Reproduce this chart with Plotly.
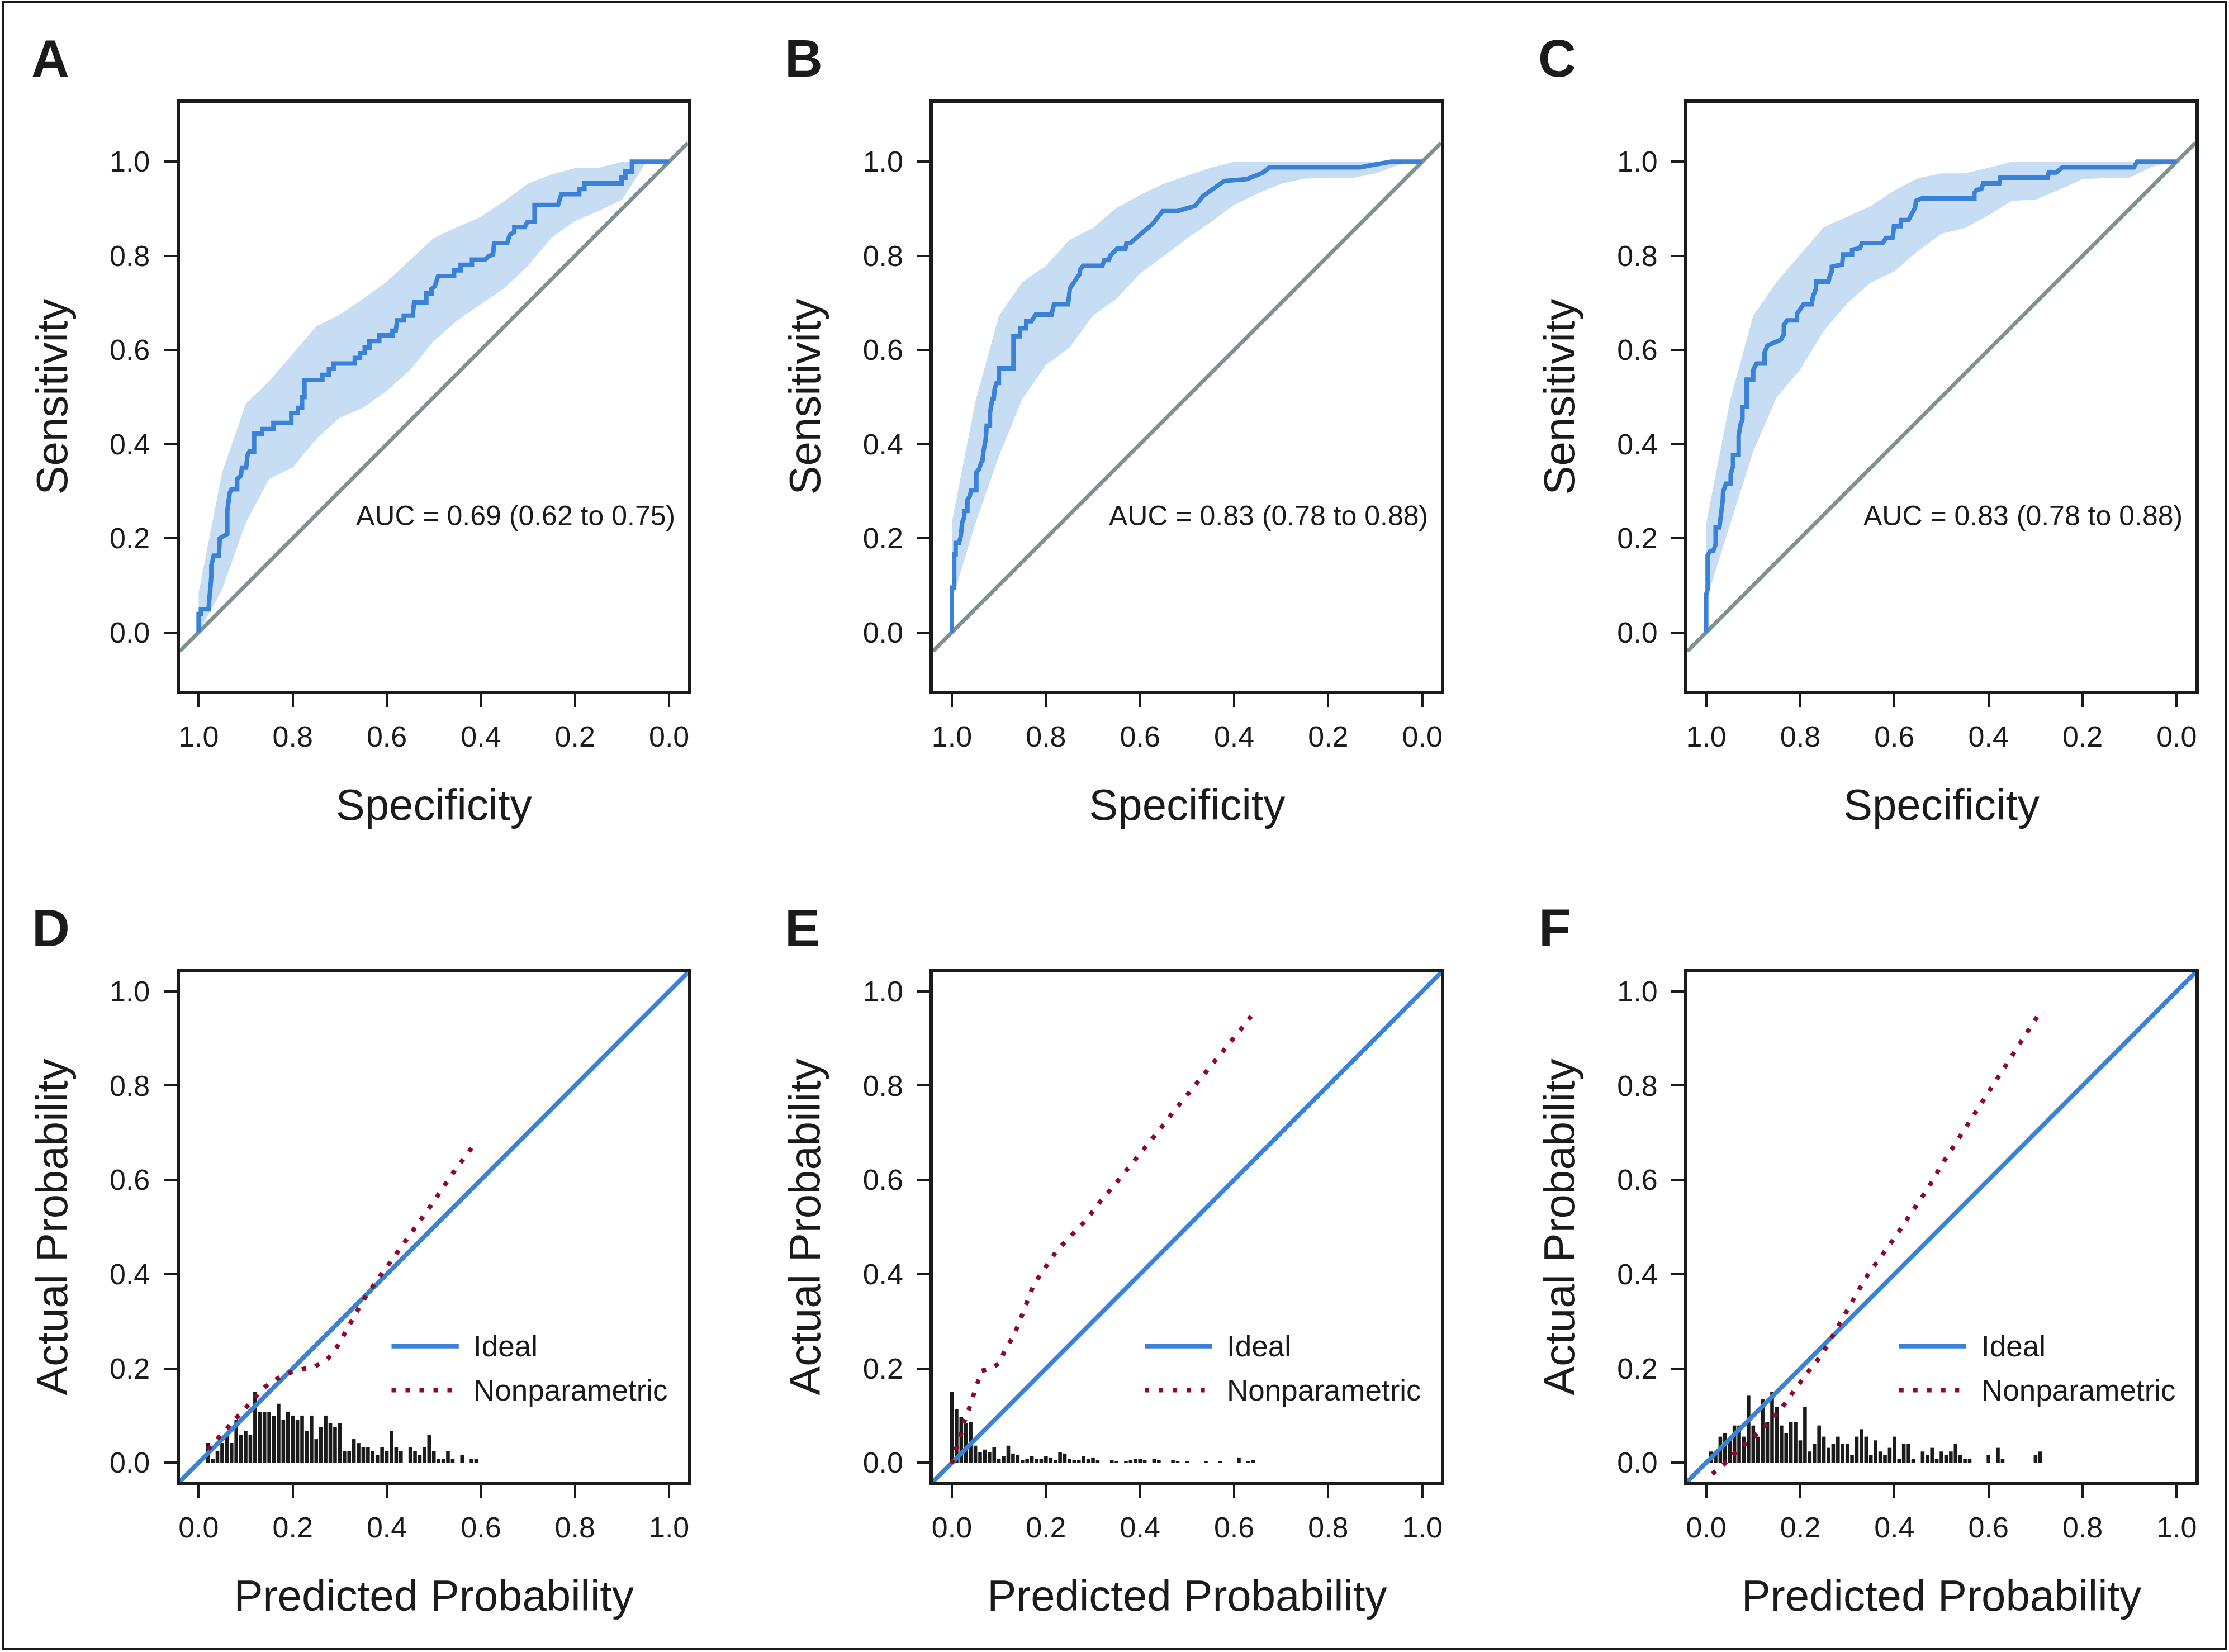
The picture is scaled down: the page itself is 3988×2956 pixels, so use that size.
import plotly.graph_objects as go

# ======================= DATA =======================
tick_vals = [0.0, 0.2, 0.4, 0.6, 0.8, 1.0]
tick_text = ["0.0", "0.2", "0.4", "0.6", "0.8", "1.0"]
panel_letters = ["A", "B", "C", "D", "E", "F"]
auc_labels = ["AUC = 0.69 (0.62 to 0.75)",
              "AUC = 0.83 (0.78 to 0.88)",
              "AUC = 0.83 (0.78 to 0.88)"]

# ROC step curves: (specificity, sensitivity)
roc_a = [(1.000, 0.000), (1.000, 0.039), (0.995, 0.039), (0.995, 0.049), (0.979, 0.049), (0.977, 0.071),
         (0.973, 0.118), (0.973, 0.142), (0.968, 0.163), (0.957, 0.163), (0.955, 0.200), (0.948, 0.204),
         (0.939, 0.209), (0.939, 0.258), (0.934, 0.296), (0.930, 0.304), (0.918, 0.304), (0.918, 0.326),
         (0.910, 0.333), (0.908, 0.350), (0.899, 0.350), (0.896, 0.377), (0.892, 0.384), (0.882, 0.384),
         (0.882, 0.422), (0.865, 0.422), (0.865, 0.432), (0.841, 0.432), (0.841, 0.445), (0.803, 0.445),
         (0.803, 0.466), (0.789, 0.466), (0.789, 0.477), (0.780, 0.477), (0.780, 0.500), (0.775, 0.500),
         (0.775, 0.536), (0.737, 0.536), (0.737, 0.547), (0.723, 0.547), (0.723, 0.560), (0.713, 0.560),
         (0.713, 0.571), (0.668, 0.571), (0.668, 0.583), (0.657, 0.583), (0.657, 0.593), (0.647, 0.593),
         (0.647, 0.605), (0.637, 0.605), (0.637, 0.619), (0.616, 0.619), (0.616, 0.631), (0.588, 0.631),
         (0.588, 0.641), (0.581, 0.641), (0.578, 0.663), (0.564, 0.663), (0.564, 0.673), (0.545, 0.673),
         (0.542, 0.701), (0.516, 0.701), (0.516, 0.720), (0.505, 0.720), (0.505, 0.730), (0.498, 0.735),
         (0.495, 0.745), (0.491, 0.757), (0.457, 0.757), (0.457, 0.769), (0.443, 0.769), (0.443, 0.781),
         (0.419, 0.781), (0.419, 0.792), (0.391, 0.792), (0.384, 0.799), (0.374, 0.803), (0.372, 0.827),
         (0.344, 0.827), (0.339, 0.844), (0.329, 0.851), (0.329, 0.861), (0.307, 0.861), (0.301, 0.872),
         (0.286, 0.872), (0.286, 0.908), (0.236, 0.908), (0.229, 0.931), (0.191, 0.931), (0.191, 0.942),
         (0.180, 0.942), (0.180, 0.954), (0.101, 0.954), (0.101, 0.966), (0.093, 0.966), (0.093, 0.979),
         (0.079, 0.979), (0.079, 1.000), (0.000, 1.000)]

roc_b = [(1.0, 0.0), (1.0, 0.095), (0.995, 0.095), (0.995, 0.166), (0.992, 0.166), (0.992, 0.190),
         (0.985, 0.190), (0.981, 0.204), (0.978, 0.234), (0.974, 0.244), (0.973, 0.258), (0.967, 0.258),
         (0.967, 0.282), (0.962, 0.289), (0.959, 0.302), (0.948, 0.302), (0.948, 0.340), (0.942, 0.347),
         (0.938, 0.360), (0.935, 0.364), (0.933, 0.384), (0.928, 0.411), (0.926, 0.439), (0.919, 0.439),
         (0.919, 0.466), (0.914, 0.496), (0.911, 0.496), (0.909, 0.517), (0.905, 0.530), (0.900, 0.530),
         (0.900, 0.561), (0.869, 0.561), (0.869, 0.629), (0.855, 0.629), (0.855, 0.646), (0.842, 0.646),
         (0.842, 0.661), (0.831, 0.661), (0.822, 0.675), (0.788, 0.675), (0.783, 0.697), (0.753, 0.697),
         (0.749, 0.731), (0.738, 0.748), (0.728, 0.762), (0.728, 0.769), (0.721, 0.779), (0.680, 0.779),
         (0.676, 0.791), (0.666, 0.791), (0.664, 0.799), (0.649, 0.815), (0.631, 0.815), (0.629, 0.827),
         (0.621, 0.827), (0.600, 0.845), (0.587, 0.857), (0.573, 0.868), (0.552, 0.895), (0.521, 0.895),
         (0.497, 0.902), (0.483, 0.906), (0.466, 0.927), (0.449, 0.939), (0.421, 0.959), (0.373, 0.963),
         (0.352, 0.970), (0.338, 0.977), (0.325, 0.988), (0.132, 0.988), (0.111, 0.992), (0.066, 1.0),
         (0.0, 1.0)]

roc_c = [(1.0, 0.0), (1.0, 0.081), (0.997, 0.091), (0.997, 0.164), (0.991, 0.173), (0.985, 0.173),
         (0.980, 0.187), (0.980, 0.223), (0.972, 0.223), (0.969, 0.244), (0.969, 0.258), (0.965, 0.279),
         (0.964, 0.299), (0.958, 0.316), (0.948, 0.316), (0.948, 0.336), (0.943, 0.353), (0.943, 0.377),
         (0.931, 0.377), (0.931, 0.418), (0.927, 0.442), (0.923, 0.452), (0.923, 0.479), (0.914, 0.479),
         (0.914, 0.537), (0.900, 0.537), (0.900, 0.558), (0.893, 0.571), (0.876, 0.571), (0.876, 0.595),
         (0.870, 0.609), (0.852, 0.616), (0.841, 0.622), (0.835, 0.633), (0.835, 0.653), (0.828, 0.663),
         (0.807, 0.663), (0.807, 0.677), (0.800, 0.687), (0.793, 0.697), (0.776, 0.697), (0.773, 0.714),
         (0.767, 0.729), (0.766, 0.745), (0.740, 0.745), (0.738, 0.755), (0.733, 0.767), (0.733, 0.777),
         (0.724, 0.779), (0.711, 0.781), (0.709, 0.803), (0.690, 0.803), (0.690, 0.813), (0.673, 0.816),
         (0.669, 0.827), (0.625, 0.827), (0.618, 0.838), (0.604, 0.838), (0.602, 0.851), (0.601, 0.863),
         (0.587, 0.863), (0.586, 0.876), (0.570, 0.876), (0.563, 0.891), (0.556, 0.902), (0.554, 0.917),
         (0.542, 0.922), (0.430, 0.922), (0.430, 0.934), (0.425, 0.940), (0.415, 0.942), (0.411, 0.954),
         (0.377, 0.954), (0.375, 0.966), (0.274, 0.966), (0.272, 0.977), (0.256, 0.977), (0.243, 0.988),
         (0.091, 0.988), (0.084, 1.0), (0.0, 1.0)]

# Sensitivity confidence bands at specificity grid
ci_spec = [1.0, 0.95, 0.90, 0.85, 0.80, 0.75, 0.70, 0.65, 0.60, 0.55, 0.50,
           0.45, 0.40, 0.35, 0.30, 0.25, 0.20, 0.15, 0.10, 0.05, 0.0]
ci_a_upper = [0.084, 0.340, 0.485, 0.534, 0.592, 0.650, 0.675, 0.709, 0.745, 0.791, 0.838,
              0.861, 0.883, 0.917, 0.953, 0.973, 0.986, 0.987, 1.0, 1.0, 1.0]
ci_a_lower = [0.0, 0.091, 0.232, 0.326, 0.350, 0.411, 0.456, 0.477, 0.513, 0.558, 0.619,
              0.663, 0.697, 0.731, 0.779, 0.838, 0.874, 0.895, 0.919, 0.997, 1.0]
ci_b_upper = [0.234, 0.490, 0.673, 0.745, 0.779, 0.834, 0.859, 0.902, 0.929, 0.953, 0.970,
              0.987, 1.0, 1.0, 1.0, 1.0, 1.0, 1.0, 1.0, 1.0, 1.0]
ci_b_lower = [0.067, 0.231, 0.374, 0.496, 0.568, 0.605, 0.673, 0.709, 0.762, 0.799, 0.837,
              0.871, 0.908, 0.932, 0.953, 0.964, 0.965, 0.965, 0.975, 0.993, 1.0]
ci_c_upper = [0.231, 0.490, 0.673, 0.745, 0.803, 0.861, 0.883, 0.906, 0.939, 0.965, 0.975,
              0.975, 0.987, 1.0, 1.0, 1.0, 1.0, 1.0, 1.0, 1.0, 1.0]
ci_c_lower = [0.067, 0.227, 0.384, 0.500, 0.558, 0.641, 0.699, 0.743, 0.767, 0.810, 0.847,
              0.859, 0.886, 0.917, 0.919, 0.940, 0.963, 0.965, 0.966, 0.990, 1.0]

# Calibration: nonparametric (lowess) curves (predicted, actual)
cal_d = [(0.02, 0.028), (0.04, 0.051), (0.06, 0.073), (0.08, 0.095), (0.10, 0.116), (0.12, 0.138),
         (0.14, 0.160), (0.165, 0.177), (0.191, 0.190), (0.219, 0.198), (0.247, 0.204), (0.274, 0.220),
         (0.292, 0.242), (0.307, 0.268), (0.322, 0.293), (0.336, 0.320), (0.351, 0.346), (0.367, 0.370),
         (0.384, 0.394), (0.402, 0.418), (0.419, 0.441), (0.436, 0.465), (0.454, 0.489), (0.471, 0.513),
         (0.488, 0.537), (0.505, 0.562), (0.521, 0.587), (0.538, 0.611), (0.556, 0.635), (0.574, 0.658),
         (0.591, 0.682)]
cal_e = [(0.000, -0.002), (0.007, 0.025), (0.018, 0.055), (0.025, 0.083), (0.035, 0.110), (0.044, 0.138),
         (0.052, 0.167), (0.063, 0.195), (0.082, 0.199), (0.102, 0.212), (0.113, 0.240), (0.129, 0.265),
         (0.141, 0.292), (0.151, 0.319), (0.161, 0.347), (0.173, 0.375), (0.188, 0.399), (0.204, 0.424),
         (0.222, 0.448), (0.242, 0.470), (0.263, 0.490), (0.283, 0.512), (0.301, 0.535), (0.319, 0.559),
         (0.339, 0.581), (0.358, 0.604), (0.377, 0.626), (0.396, 0.650), (0.414, 0.673), (0.433, 0.696),
         (0.451, 0.718), (0.469, 0.742), (0.488, 0.765), (0.507, 0.787), (0.526, 0.810), (0.544, 0.833),
         (0.562, 0.856), (0.581, 0.878), (0.600, 0.902), (0.618, 0.924), (0.636, 0.947)]
cal_f = [(0.013, -0.024), (0.036, -0.005), (0.056, 0.016), (0.078, 0.036), (0.101, 0.056), (0.123, 0.075),
         (0.143, 0.097), (0.162, 0.118), (0.180, 0.143), (0.197, 0.167), (0.215, 0.191), (0.234, 0.214),
         (0.251, 0.238), (0.266, 0.264), (0.280, 0.289), (0.294, 0.315), (0.309, 0.341), (0.324, 0.367),
         (0.339, 0.392), (0.356, 0.416), (0.373, 0.441), (0.391, 0.464), (0.408, 0.488), (0.425, 0.512),
         (0.441, 0.536), (0.457, 0.561), (0.473, 0.585), (0.487, 0.611), (0.503, 0.636), (0.520, 0.662),
         (0.536, 0.687), (0.552, 0.711), (0.568, 0.737), (0.584, 0.761), (0.600, 0.786), (0.617, 0.810),
         (0.633, 0.836), (0.648, 0.861), (0.664, 0.885), (0.680, 0.909), (0.696, 0.935), (0.712, 0.959)]

# Distribution of predicted probabilities (spike counts per 0.01 bin)
spike_d_x = [0.02, 0.03, 0.04, 0.05, 0.06, 0.07, 0.08, 0.09, 0.10, 0.11, 0.12, 0.13, 0.14, 0.15, 0.16,
             0.17, 0.18, 0.19, 0.20, 0.21, 0.22, 0.23, 0.24, 0.25, 0.26, 0.27, 0.28, 0.29, 0.30, 0.31,
             0.32, 0.33, 0.34, 0.35, 0.36, 0.37, 0.38, 0.39, 0.40, 0.41, 0.42, 0.43, 0.45, 0.46, 0.47,
             0.48, 0.49, 0.50, 0.51, 0.52, 0.53, 0.54, 0.56, 0.58, 0.59]
spike_d_n = [5, 1, 3, 5, 7, 5, 11, 7, 8, 7, 18, 13, 13, 13, 12,
             15, 11, 13, 12, 11, 12, 8, 12, 6, 9, 12, 10, 9, 10, 3,
             3, 6, 5, 4, 4, 3, 2, 4, 3, 8, 4, 3, 4, 3, 2,
             4, 7, 3, 1, 1, 3, 1, 2, 1, 1]
spike_e_x = [0.00, 0.01, 0.02, 0.03, 0.04, 0.05, 0.06, 0.07, 0.08, 0.09, 0.10, 0.11, 0.12, 0.13, 0.14,
             0.15, 0.16, 0.17, 0.18, 0.19, 0.20, 0.21, 0.22, 0.23, 0.24, 0.25, 0.26, 0.27, 0.28, 0.29,
             0.30, 0.31, 0.34, 0.35, 0.37, 0.38, 0.39, 0.40, 0.41, 0.43, 0.44, 0.47, 0.48, 0.50, 0.54,
             0.57, 0.61, 0.63, 0.64]
spike_e_n = [54, 41, 35, 30, 31, 13, 8, 10, 8, 12, 3, 5, 13, 7, 6,
             2, 3, 5, 3, 3, 5, 4, 2, 8, 7, 3, 2, 2, 5, 3,
             4, 2, 2, 1, 1, 2, 3, 3, 2, 3, 2, 2, 1, 1, 1,
             1, 4, 1, 2]
spike_f_x = [0.01, 0.02, 0.03, 0.04, 0.05, 0.06, 0.07, 0.08, 0.09, 0.10, 0.11, 0.12, 0.13, 0.14, 0.15,
             0.16, 0.17, 0.18, 0.19, 0.20, 0.21, 0.22, 0.23, 0.24, 0.25, 0.26, 0.27, 0.28, 0.29, 0.30,
             0.31, 0.32, 0.33, 0.34, 0.35, 0.36, 0.37, 0.38, 0.39, 0.40, 0.41, 0.42, 0.43, 0.44, 0.46,
             0.47, 0.48, 0.49, 0.50, 0.51, 0.52, 0.53, 0.54, 0.55, 0.56, 0.60, 0.62, 0.63, 0.70, 0.71]
spike_f_n = [3, 3, 7, 8, 6, 10, 10, 7, 18, 10, 7, 17, 11, 19, 15,
             10, 8, 11, 11, 6, 15, 3, 5, 10, 7, 4, 5, 7, 5, 5,
             2, 7, 9, 7, 2, 6, 3, 2, 4, 7, 1, 5, 5, 1, 3,
             2, 4, 1, 3, 2, 3, 5, 2, 1, 1, 2, 4, 1, 2, 3]
spike_max_height = 0.15

# ======================= STYLE / LAYOUT =======================
W, H = 3988, 2956
FONT = "Liberation Sans, Arial, sans-serif"
INK = "#1b1b1b"
BLUE = "#3a82d8"
BAND = "#c7ddf3"
DIAG = "#7f9292"
RED = "#8c0a2c"
DOT = "8px,17px"

roc_xrange = [1.04, -0.04]
roc_yrange = [-0.124, 1.125]
cal_range = [-0.04, 1.04]

col_px = [(320, 1230), (1669, 2579), (3020, 3930)]
top_px = (184, 1236)
bot_px = (1740, 2651)


def xdom(c):
    return [c[0] / W, c[1] / W]


def ydom(r):
    return [1 - r[1] / H, 1 - r[0] / H]


fig = go.Figure()

base_axis = dict(showline=True, linewidth=6, linecolor=INK, mirror=True,
                 ticks="outside", ticklen=23, tickwidth=4, tickcolor=INK,
                 showgrid=False, zeroline=False, tickvals=tick_vals, ticktext=tick_text,
                 tickfont=dict(size=52, color=INK, family=FONT), fixedrange=True)

layout_axes = {}
for i in range(6):
    n = i + 1
    xa = "xaxis" if n == 1 else f"xaxis{n}"
    ya = "yaxis" if n == 1 else f"yaxis{n}"
    xs = "x" if n == 1 else f"x{n}"
    ys = "y" if n == 1 else f"y{n}"
    col = col_px[i % 3]
    row = top_px if i < 3 else bot_px
    if i < 3:
        xtitle, ytitle = "Specificity", "Sensitivity"
        xr, yr = roc_xrange, roc_yrange
    else:
        xtitle, ytitle = "Predicted Probability", "Actual Probability"
        xr, yr = cal_range, cal_range
    layout_axes[xa] = dict(base_axis, domain=xdom(col), anchor=ys, range=xr, ticklabelstandoff=9,
                           title=dict(text=xtitle, standoff=68,
                                      font=dict(size=78, color=INK, family=FONT)))
    layout_axes[ya] = dict(base_axis, domain=ydom(row), anchor=xs, range=yr, ticklabelstandoff=14,
                           title=dict(text=ytitle, standoff=52,
                                      font=dict(size=78, color=INK, family=FONT)))

# ---- ROC panels ----
rocs = [roc_a, roc_b, roc_c]
bands = [(ci_a_lower, ci_a_upper), (ci_b_lower, ci_b_upper), (ci_c_lower, ci_c_upper)]
for i in range(3):
    xs = "x" if i == 0 else f"x{i + 1}"
    ys = "y" if i == 0 else f"y{i + 1}"
    lo, up = bands[i]
    fig.add_trace(go.Scatter(x=ci_spec + ci_spec[::-1], y=up + lo[::-1], fill="toself",
                             fillcolor=BAND, line=dict(width=0, color=BAND), mode="lines",
                             hoverinfo="skip", xaxis=xs, yaxis=ys, name="95% CI"))
    fig.add_trace(go.Scatter(x=roc_xrange, y=[1 - v for v in roc_xrange], mode="lines",
                             line=dict(color=DIAG, width=7), xaxis=xs, yaxis=ys, name="Chance"))
    sp = [p[0] for p in rocs[i]]
    se = [p[1] for p in rocs[i]]
    fig.add_trace(go.Scatter(x=sp, y=se, mode="lines", line=dict(color=BLUE, width=8),
                             xaxis=xs, yaxis=ys, name="ROC"))

# ---- Calibration panels ----
cals = [cal_d, cal_e, cal_f]
spikes = [(spike_d_x, spike_d_n), (spike_e_x, spike_e_n), (spike_f_x, spike_f_n)]
for j in range(3):
    n = j + 4
    xs, ys = f"x{n}", f"y{n}"
    fig.add_trace(go.Scatter(x=cal_range, y=cal_range, mode="lines", line=dict(color=BLUE, width=8),
                             xaxis=xs, yaxis=ys, name="Ideal"))
    fig.add_trace(go.Scatter(x=[p[0] for p in cals[j]], y=[p[1] for p in cals[j]], mode="lines",
                             line=dict(color=RED, width=8, dash=DOT),
                             xaxis=xs, yaxis=ys, name="Nonparametric"))
    sx, sn = spikes[j]
    mx = max(sn)
    fig.add_trace(go.Bar(x=sx, y=[c / mx * spike_max_height for c in sn], width=0.0078,
                         marker=dict(color=INK, line=dict(width=0)), xaxis=xs, yaxis=ys,
                         name="Distribution"))

# ---- Annotations ----
annotations = []
letter_pos = [(88, 105), (1437, 104), (2787, 104), (89, 1660), (1435, 1660), (2782, 1660)]
for k, (px, py) in enumerate(letter_pos):
    annotations.append(dict(text=f"<b>{panel_letters[k]}</b>", x=px / W, y=1 - py / H,
                            xref="paper", yref="paper", xanchor="center", yanchor="middle",
                            showarrow=False, font=dict(size=94, color=INK, family=FONT)))
for i in range(3):
    xs = "x" if i == 0 else f"x{i + 1}"
    ys = "y" if i == 0 else f"y{i + 1}"
    annotations.append(dict(text=auc_labels[i], x=-0.015, y=0.248, xref=xs, yref=ys,
                            xanchor="right", yanchor="middle", showarrow=False,
                            font=dict(size=50, color=INK, family=FONT)))

shapes = []
for j in range(3):
    n = j + 4
    xd, yd = f"x{n} domain", f"y{n} domain"
    shapes.append(dict(type="line", xref=xd, yref=yd, x0=0.4167, x1=0.549, y0=0.266, y1=0.266,
                       line=dict(color=BLUE, width=8)))
    shapes.append(dict(type="line", xref=xd, yref=yd, x0=0.4167, x1=0.535, y0=0.1796, y1=0.1796,
                       line=dict(color=RED, width=8, dash=DOT)))
    annotations.append(dict(text="Ideal", x=0.576, y=0.266, xref=xd, yref=yd, xanchor="left",
                            yanchor="middle", showarrow=False, font=dict(size=53, color=INK, family=FONT)))
    annotations.append(dict(text="Nonparametric", x=0.576, y=0.1796, xref=xd, yref=yd, xanchor="left",
                            yanchor="middle", showarrow=False, font=dict(size=53, color=INK, family=FONT)))

# outer border
shapes.append(dict(type="rect", xref="paper", yref="paper", x0=3 / W, x1=1 - 4 / W, y0=5 / H, y1=1 - 3 / H,
                   line=dict(color=INK, width=4), fillcolor="rgba(0,0,0,0)"))

fig.update_layout(width=W, height=H, margin=dict(l=0, r=0, t=0, b=0),
                  paper_bgcolor="white", plot_bgcolor="white", showlegend=False,
                  font=dict(family=FONT, color=INK), annotations=annotations, shapes=shapes,
                  **layout_axes)

fig.write_html("out.html", config={"displayModeBar": False},
               post_script="document.body.style.margin='0px';document.body.style.padding='0px';"
                           "document.documentElement.style.overflow='hidden';")
